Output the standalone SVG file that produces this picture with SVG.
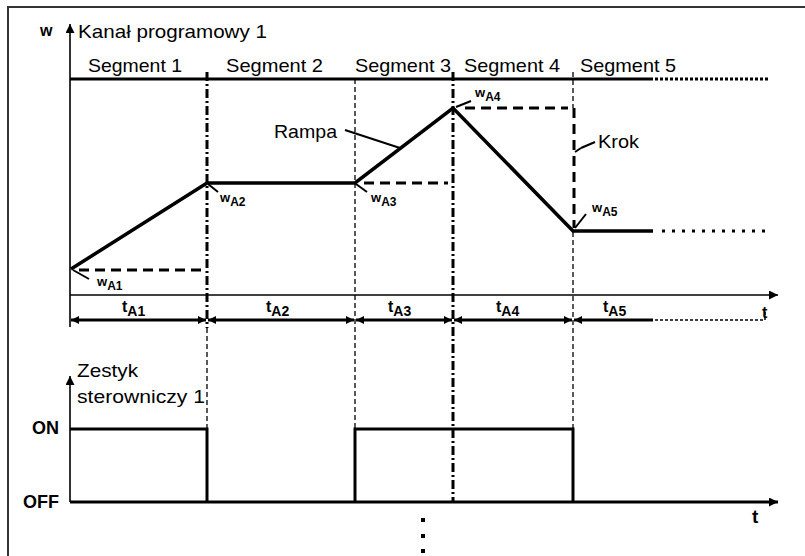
<svg xmlns="http://www.w3.org/2000/svg" width="805" height="556" viewBox="0 0 805 556">
<defs>
<style>
text{font-family:"Liberation Sans",Arial,sans-serif;fill:#000}
.lbl{font-size:19px}
.b{font-weight:bold}
.thin{stroke:#000;stroke-width:1.6;fill:none}
.thick{stroke:#000;stroke-width:3;fill:none}
.prof{stroke:#000;stroke-width:3.5;fill:none;stroke-linejoin:miter}
.dash{stroke:#000;stroke-width:3;stroke-dasharray:10 6;fill:none}
.dashdot{stroke:#000;stroke-width:3;stroke-dasharray:9 3 2 3;fill:none}
.tdash{stroke:#000;stroke-width:1.3;stroke-dasharray:5 3;fill:none}
.lead{stroke:#000;stroke-width:2;fill:none}
.w{font-size:13px;font-weight:bold}
.ws{font-size:12px;font-weight:bold}
.t{font-size:16px;font-weight:bold}
.ts{font-size:14px;font-weight:bold}
</style>
<marker id="arr" viewBox="0 0 10 10" refX="10" refY="5" markerWidth="10" markerHeight="9" orient="auto" markerUnits="userSpaceOnUse"><path d="M0,0 L10,5 L0,10 z" fill="#000"/></marker>
<marker id="dim" viewBox="0 0 10 10" refX="10" refY="5" markerWidth="8" markerHeight="8" orient="auto-start-reverse" markerUnits="userSpaceOnUse"><path d="M0,0 L10,5 L0,10 z" fill="#000"/></marker>
</defs>
<rect x="0" y="0" width="805" height="556" fill="#fff"/>
<rect id="frame" x="8" y="7" width="820" height="570" fill="none" stroke="#333" stroke-width="2"/>

<g id="connectors">
  <!-- axes -->
  <line class="thin" x1="70" y1="327" x2="70" y2="24" marker-end="url(#arr)"/>
  <line class="thin" x1="70" y1="295" x2="778" y2="295" marker-end="url(#arr)"/>
  <line class="thin" x1="70" y1="502" x2="70" y2="376" marker-end="url(#arr)"/>
  <line class="thick" x1="70" y1="502" x2="778" y2="502" marker-end="url(#arr)"/>
  <!-- segment header -->
  <line class="thick" x1="70" y1="79" x2="653" y2="79"/>
  <line stroke="#000" stroke-width="3" stroke-dasharray="3 2" x1="655" y1="79" x2="768" y2="79"/>
  <!-- vertical dividers -->
  <line class="dashdot" x1="207" y1="72" x2="207" y2="328"/>
  <line class="tdash" x1="207" y1="328" x2="207" y2="429"/>
  <line class="tdash" x1="355" y1="79" x2="355" y2="429"/>
  <line class="dashdot" x1="453" y1="72" x2="453" y2="502"/>
  <line class="tdash" x1="573" y1="72" x2="573" y2="108"/>
  <line class="dash" x1="574" y1="108" x2="574" y2="228"/>
  <line class="tdash" x1="573" y1="232" x2="573" y2="429"/>
  <!-- reference dashed horizontals -->
  <line class="dash" x1="79" y1="270" x2="203" y2="270"/>
  <line class="dash" x1="364" y1="183" x2="448" y2="183"/>
  <line class="dash" x1="465" y1="108" x2="568" y2="108"/>
  <!-- program profile -->
  <polyline class="prof" points="71,269 207,183 355,183 453,108 573,231 653,231"/>
  <line stroke="#000" stroke-width="3" stroke-dasharray="3 7" x1="662" y1="231" x2="765" y2="231"/>
  <!-- duration row -->
  <line class="thick" x1="71" y1="320" x2="206" y2="320" marker-start="url(#dim)" marker-end="url(#dim)"/>
  <line class="thick" x1="208" y1="320" x2="354" y2="320" marker-start="url(#dim)" marker-end="url(#dim)"/>
  <line class="thick" x1="356" y1="320" x2="452" y2="320" marker-start="url(#dim)" marker-end="url(#dim)"/>
  <line class="thick" x1="454" y1="320" x2="572" y2="320" marker-start="url(#dim)" marker-end="url(#dim)"/>
  <line class="thick" x1="574" y1="320" x2="653" y2="320" marker-start="url(#dim)"/>
  <polyline stroke="#000" stroke-width="1.5" stroke-dasharray="3 2" fill="none" points="655,320 765,320 765,311"/>
  <!-- switching signal -->
  <polyline class="thick" points="70,429 207,429 207,502"/>
  <polyline class="thick" points="355,502 355,429 573,429 573,502"/>
  <!-- leaders -->
  <line class="lead" x1="73" y1="270" x2="89" y2="279"/>
  <line class="lead" x1="208" y1="184" x2="218" y2="192"/>
  <line class="lead" x1="356" y1="184" x2="367" y2="192"/>
  <line class="lead" x1="456" y1="107" x2="471" y2="101"/>
  <line class="lead" x1="575" y1="228" x2="586" y2="214"/>
  <line class="lead" x1="345" y1="130" x2="400" y2="148"/>
  <line class="lead" x1="575" y1="152" x2="581" y2="148"/>
  <line class="lead" x1="581" y1="148" x2="595" y2="142"/>
  <!-- continuation dots -->
  <rect x="421" y="518" width="4" height="4"/>
  <rect x="421" y="534" width="4" height="4"/>
  <rect x="421" y="549" width="4" height="4"/>
</g>

<g id="axis-labels">
  <text class="b" x="40" y="36" font-size="16">w</text>
  <text class="lbl" x="78" y="38" textLength="189" lengthAdjust="spacingAndGlyphs">Kanał programowy 1</text>
  <text class="b" x="762" y="318" font-size="16">t</text>
  <text class="lbl" x="77" y="377" textLength="61" lengthAdjust="spacingAndGlyphs">Zestyk</text>
  <text class="lbl" x="77" y="403" textLength="128" lengthAdjust="spacingAndGlyphs">sterowniczy 1</text>
  <text class="b" x="32" y="434" font-size="18">ON</text>
  <text class="b" x="23" y="508" font-size="18">OFF</text>
  <text class="b" x="752" y="523" font-size="19">t</text>
</g>

<g id="segments">
  <text class="lbl" x="88" y="72" textLength="94" lengthAdjust="spacingAndGlyphs">Segment 1</text>
  <text class="lbl" x="226" y="72" textLength="97" lengthAdjust="spacingAndGlyphs">Segment 2</text>
  <text class="lbl" x="355" y="72" textLength="96" lengthAdjust="spacingAndGlyphs">Segment 3</text>
  <text class="lbl" x="464" y="72" textLength="96" lengthAdjust="spacingAndGlyphs">Segment 4</text>
  <text class="lbl" x="580" y="72" textLength="96" lengthAdjust="spacingAndGlyphs">Segment 5</text>
</g>

<g id="annotations">
  <text class="lbl" x="274" y="138" textLength="63" lengthAdjust="spacingAndGlyphs">Rampa</text>
  <text class="lbl" x="598" y="148" textLength="41" lengthAdjust="spacingAndGlyphs">Krok</text>
  <text x="97" y="286"><tspan class="w">w</tspan><tspan class="ws" dy="4">A1</tspan></text>
  <text x="220" y="202"><tspan class="w">w</tspan><tspan class="ws" dy="4">A2</tspan></text>
  <text x="371" y="202"><tspan class="w">w</tspan><tspan class="ws" dy="4">A3</tspan></text>
  <text x="475" y="97"><tspan class="w">w</tspan><tspan class="ws" dy="4">A4</tspan></text>
  <text x="592" y="212"><tspan class="w">w</tspan><tspan class="ws" dy="4">A5</tspan></text>
</g>

<g id="durations">
  <text x="122" y="312"><tspan class="t">t</tspan><tspan class="ts" dy="4">A1</tspan></text>
  <text x="266" y="312"><tspan class="t">t</tspan><tspan class="ts" dy="4">A2</tspan></text>
  <text x="388" y="312"><tspan class="t">t</tspan><tspan class="ts" dy="4">A3</tspan></text>
  <text x="496" y="312"><tspan class="t">t</tspan><tspan class="ts" dy="4">A4</tspan></text>
  <text x="603" y="312"><tspan class="t">t</tspan><tspan class="ts" dy="4">A5</tspan></text>
</g>
</svg>
